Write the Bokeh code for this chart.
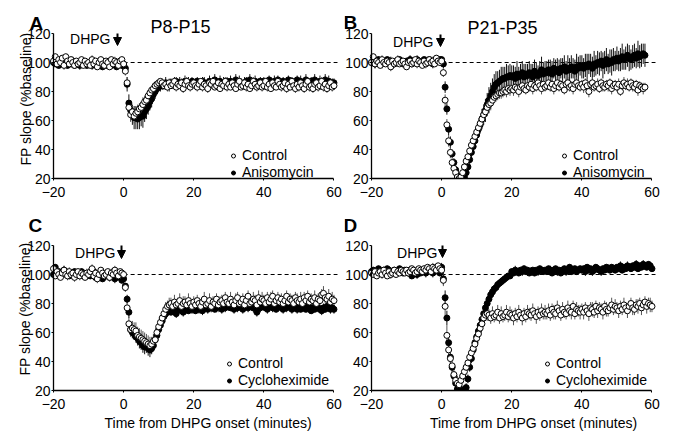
import math
from bokeh.plotting import figure
from bokeh.layouts import column, row
from bokeh.models import (ColumnDataSource, Label, Arrow, NormalHead, Legend,
                          LegendItem, Range1d, FixedTicker)
from bokeh.embed import file_html
from bokeh.resources import INLINE

# ---------------- data ----------------
# sample times (minutes from DHPG onset), one sample every 30 s
TIMES = [-20 + 0.5 * i for i in range(161)]
X_TICKS = [-20, 0, 20, 40, 60]
Y_TICKS = [20, 40, 60, 80, 100, 120]
BASELINE = 100
DHPG_ONSET = 0


def parse(*segs):
    vals = [float(v) for v in " ".join(segs).split()]
    assert len(vals) == len(TIMES), len(vals)
    return vals


# panel A: P8-P15, control vs anisomycin
A_CTRL = parse(
    "101 104 99 102 100 103 98 104 101 99 102 100 98 101 99 100 102 98 101 99",
    "100 98 102 99 101 97 100 102 99 98 101 100 97 102 99 101 100 98 101 102",
    "99 94 86 69 64 66 63 65 66 68 69 71 73 74 77 79 81 82 84 85",
    "86 87 86 84 85 83 86 84 85 87 83 85 84 86 82 85 87 84 83 85",
    "86 84 83 85 87 83 85 84 82 86 85 87 83 84 86 82 85 84 87 83",
    "85 83 86 84 82 85 87 83 84 86 83 85 82 84 87 85 83 84 86 83",
    "84 87 83 85 82 86 84 83 87 85 83 84 86 82 85 83 87 84 82 85",
    "83 86 84 82 85 87 83 84 82 85 86 83 84 87 83 85 82 84 86 83",
    "84")
A_ANISO = parse(
    "100 99 101 98 100 99 101 100 98 100 99 101 98 100 99 98 100 101 99 98",
    "99 100 98 101 99 98 100 99 97 100 98 99 101 98 100 99 97 100 99 98",
    "98 96 85 72 67 64 62 62 61 62 63 63 66 68 70 73 75 78 80 82",
    "83 84 84 85 86 85 84 86 85 86 87 85 86 84 86 87 85 86 85 87",
    "86 85 87 86 85 87 86 84 86 87 85 86 88 85 86 87 85 86 84 87",
    "86 87 85 86 88 85 87 86 84 86 87 85 88 86 85 87 86 85 87 86",
    "87 85 86 88 86 85 87 86 88 85 86 87 85 86 88 86 87 85 86 88",
    "86 87 85 86 88 86 85 87 86 88 85 86 87 85 86 88 86 87 85 86",
    "86")

# panel B: P21-P35, control vs anisomycin
B_CTRL = parse(
    "100 104 99 101 100 98 102 100 99 101 100 97 101 99 100 102 99 100 101 99",
    "97 100 101 99 100 102 99 101 100 98 101 99 100 102 100 101 99 103 101 100",
    "101 93 74 57 46 38 31 27 24 21 20 21 24 28 32 35 39 43 46 49",
    "52 55 58 61 64 66 69 71 72 74 76 77 78 79 79 80 81 80 82 81",
    "82 81 83 82 80 83 84 82 81 84 83 85 82 84 83 86 84 82 85 83",
    "84 86 83 85 82 84 86 83 85 84 81 85 86 83 84 82 85 86 84 83",
    "85 83 86 84 80 85 86 83 84 85 82 86 84 83 85 84 86 82 84 85",
    "83 85 80 84 86 84 85 83 86 84 83 85 81 84 83 82 83 nan nan nan",
    "nan")
B_ANISO = parse(
    "100 101 99 100 102 100 99 101 100 102 99 101 100 99 101 100 102 101 99 100",
    "101 100 102 99 101 100 102 101 100 99 102 101 100 102 101 99 100 102 101 102",
    "102 99 83 68 54 45 37 31 26 22 20 20 20 21 24 28 33 38 42 46",
    "50 54 57 61 64 67 71 74 77 80 83 85 86 87 88 89 89 90 90 91",
    "90 91 89 92 90 91 93 90 92 91 93 92 90 94 92 91 93 95 92 94",
    "93 95 94 92 96 94 95 93 96 95 97 94 96 95 97 96 94 97 96 98",
    "97 96 98 97 99 98 96 99 98 100 99 101 98 100 102 99 101 100 102 101",
    "103 101 102 104 102 103 105 103 102 104 105 103 106 104 105 106 105 nan nan nan",
    "nan")

# panel C: P8-P15, control vs cycloheximide
C_CTRL = parse(
    "104 99 102 100 98 101 103 100 99 102 100 101 98 100 102 99 101 100 98 101",
    "100 102 104 99 101 97 100 103 101 99 100 102 98 101 100 103 101 99 102 101",
    "100 91 77 66 62 63 62 61 58 57 56 55 54 53 52 51 52 54 55 60",
    "64 67 70 73 76 78 79 80 78 81 79 80 82 78 80 81 79 82 80 78",
    "81 79 82 80 78 81 83 79 80 82 78 81 80 83 79 81 82 80 84 81",
    "80 83 81 79 82 84 80 81 83 79 82 85 80 81 83 82 79 84 81 83",
    "82 80 84 81 83 85 80 82 84 81 83 80 82 85 81 83 82 80 84 82",
    "81 83 80 84 82 85 81 83 82 84 80 83 82 86 87 84 83 85 81 83",
    "82")
C_CYCLO = parse(
    "100 105 101 102 100 101 103 102 100 99 101 100 102 99 101 100 102 101 99 100",
    "101 99 100 102 98 100 99 101 97 100 99 101 98 100 99 97 100 99 98 96",
    "97 92 83 74 62 60 59 57 56 54 53 51 50 51 49 48 49 51 55 58",
    "62 65 68 71 73 74 75 74 76 75 73 76 77 75 74 77 76 75 77 76",
    "77 75 78 76 77 75 78 77 76 79 77 78 76 77 79 78 76 78 77 79",
    "78 77 79 76 78 77 79 78 76 78 80 77 79 78 77 79 74 78 77 79",
    "78 77 76 78 79 77 78 76 79 78 77 76 78 77 79 78 76 77 78 76",
    "77 76 78 77 76 78 77 75 77 76 78 77 76 75 77 76 78 77 76 77",
    "76")

# panel D: P21-P35, control vs cycloheximide
D_CTRL = parse(
    "101 100 102 99 101 102 100 103 101 99 102 100 101 103 100 102 101 103 102 101",
    "103 101 102 104 103 101 102 104 103 102 104 103 105 104 102 105 104 103 106 104",
    "103 96 78 58 48 42 37 31 27 25 24 27 30 33 36 39 43 46 49 52",
    "56 59 63 66 70 72 73 72 70 73 71 72 74 70 73 71 72 74 71 73",
    "72 70 73 71 74 72 70 73 71 74 73 72 75 73 71 74 72 75 73 74",
    "73 75 72 76 74 73 77 75 72 76 74 73 77 75 74 78 73 76 75 74",
    "76 74 77 75 73 77 76 74 78 75 77 76 74 78 76 75 77 79 76 78",
    "77 75 78 76 79 77 75 78 80 77 76 79 78 80 77 79 81 78 80 79",
    "78")
D_CYCLO = parse(
    "102 103 101 102 104 102 101 103 102 104 103 101 102 103 101 102 104 102 101 103",
    "102 101 103 99 101 102 100 103 101 102 103 101 102 104 103 101 102 103 104 101",
    "105 97 84 70 53 43 36 30 25 21 20 20 20 20 22 28 36 42 48 53",
    "57 61 65 69 73 77 80 83 86 88 90 91 93 94 95 96 97 98 99 99",
    "102 101 103 102 101 103 102 104 102 103 101 102 103 101 103 102 104 103 102 103",
    "102 104 103 101 103 104 102 103 101 103 104 102 103 105 102 103 104 102 103 104",
    "103 104 102 105 103 104 102 103 105 104 103 102 104 103 105 104 103 105 104 103",
    "105 104 106 103 105 104 106 105 104 106 105 107 104 106 105 107 106 105 107 106",
    "104")

# standard errors (read as bar half-lengths)
EB_BASE = "2 2 3 2 2 2 3 2 2 2 2 3 2 2 2 3 2 2 2 2"
EB_T2 = "3 2 3 3 2 3 3 2 3 2 3 3 2 3 3 2 3 2 3 3"
EB_T3 = "3 4 3 3 4 3 4 3 3 4 3 3 4 3 3 4 3 4 3 3"
EB_T4 = "4 5 4 4 5 4 5 4 4 5 4 4 5 4 5 4 4 5 4 5"
EB_T8 = "8 7 8 9 7 8 8 9 7 8 8 7 9 8 8 7 8 9 8 7"

A_CTRL_ERR = parse(EB_BASE, EB_BASE, "2 3 4 5 5 4 5 4 5 4 4 5 4 4 4 3 3 3 3 3",
                   EB_T2, EB_T2, EB_T2, EB_T2, EB_T2, "3")
A_ANISO_ERR = parse(EB_BASE, EB_BASE, "2 3 5 6 7 7 8 8 7 8 7 8 7 7 6 6 6 5 5 4",
                    EB_T3, EB_T3, EB_T3, EB_T3, EB_T3, "3")
B_CTRL_ERR = parse(EB_BASE, EB_BASE, "2 3 4 4 4 4 3 3 3 3 3 3 3 3 3 3 4 4 4 4",
                   "4 4 5 5 5 5 5 5 5 4 4 4 4 4 4 4 4 4 4 4",
                   EB_T3, EB_T3, EB_T3, EB_T3, "3")
B_ANISO_ERR = parse(EB_BASE, EB_BASE, "2 3 4 4 4 4 3 3 3 3 3 3 3 3 3 3 4 4 5 5",
                    "5 6 6 7 7 8 8 9 9 9 9 9 8 8 9 8 8 9 8 8",
                    EB_T8, EB_T8, EB_T8, EB_T8, "8")
C_CTRL_ERR = parse("3 2 3 3 2 3 3 2 3 3 3 2 3 3 2 3 3 3 2 3",
                   "3 2 3 3 2 3 3 2 3 3 3 2 3 3 2 3 3 3 2 3",
                   "2 3 4 5 5 5 5 6 6 6 6 6 6 6 6 6 5 5 5 4",
                   EB_T4, EB_T4, EB_T4, EB_T4, EB_T4, "4")
C_CYCLO_ERR = parse(EB_BASE, EB_BASE, "2 2 3 4 4 4 4 4 5 5 5 5 5 5 5 5 4 4 4 3",
                    EB_T2, EB_T2, EB_T2, EB_T2, EB_T2, "3")
D_CTRL_ERR = parse(EB_BASE, EB_BASE, "3 4 6 7 7 6 6 6 5 5 5 5 5 5 5 5 5 5 5 5",
                   EB_T4, EB_T4, EB_T4, EB_T4, EB_T4, "4")
D_CYCLO_ERR = parse(EB_BASE, EB_BASE, "3 4 5 5 4 4 3 3 3 3 3 3 3 3 3 3 3 3 3 3",
                    "3 3 3 3 3 3 3 3 3 2 2 2 2 2 2 2 2 2 2 2",
                    EB_BASE, EB_BASE, EB_BASE, EB_BASE, "2")

# ---------------- layout / style ----------------
X_AXIS_START, X_AXIS_END = -20, 60
Y_AXIS_START, Y_AXIS_END = 20, 120
DASH_END = 61
FONT = "Liberation Sans"
PX_PER_MIN = 3.506
PX_PER_UNIT = 1.45

# page-pixel geometry of each panel (figure box, axis origin) and of its texts
PANELS = [
    dict(letter="A", title="P8-P15", ctrl=A_CTRL, ctrl_err=A_CTRL_ERR,
         drug=A_ANISO, drug_err=A_ANISO_ERR, drug_name="Anisomycin",
         box=(0, 0, 344, 205), axis_px=53, top_px=33,
         letter_px=(29, 23), title_px=(180, 26.5), dhpg_px=(110, 38),
         arrow_px=(117, 33, 45), legend_px=(233, 172),
         ylabel_px=(25.5, 98.5), xlabel_px=None),
    dict(letter="B", title="P21-P35", ctrl=B_CTRL, ctrl_err=B_CTRL_ERR,
         drug=B_ANISO, drug_err=B_ANISO_ERR, drug_name="Anisomycin",
         box=(344, 0, 331, 205), axis_px=371, top_px=33,
         letter_px=(343, 22), title_px=(502, 27), dhpg_px=(433, 41),
         arrow_px=(440, 34, 46), legend_px=(564, 172),
         ylabel_px=None, xlabel_px=None),
    dict(letter="C", title=None, ctrl=C_CTRL, ctrl_err=C_CTRL_ERR,
         drug=C_CYCLO, drug_err=C_CYCLO_ERR, drug_name="Cycloheximide",
         box=(0, 205, 344, 233), axis_px=53, top_px=245,
         letter_px=(28, 225), title_px=None, dhpg_px=(115, 252.5),
         arrow_px=(121, 245, 258), legend_px=(229, 380),
         ylabel_px=(24, 308.5), xlabel_px=(207.6, 422)),
    dict(letter="D", title=None, ctrl=D_CTRL, ctrl_err=D_CTRL_ERR,
         drug=D_CYCLO, drug_err=D_CYCLO_ERR, drug_name="Cycloheximide",
         box=(344, 205, 331, 233), axis_px=371, top_px=245,
         letter_px=(343, 225), title_px=None, dhpg_px=(437, 252),
         arrow_px=(442, 245, 257), legend_px=(547, 380),
         ylabel_px=None, xlabel_px=(533, 422)),
]


def make_panel(cfg):
    bx, by, bw, bh = cfg["box"]

    def dx(px):
        return X_AXIS_START + (px - cfg["axis_px"]) / PX_PER_MIN

    def dy(py):
        return Y_AXIS_END - (py - cfg["top_px"]) / PX_PER_UNIT

    p = figure(width=bw, height=bh, title=None,
               x_range=Range1d(dx(bx), dx(bx + bw)),
               y_range=Range1d(dy(by + bh), dy(by)),
               output_backend="svg", toolbar_location=None,
               min_border=0, min_border_left=0, min_border_right=0,
               min_border_top=0, min_border_bottom=0)
    p.outline_line_color = None
    p.xgrid.visible = False
    p.ygrid.visible = False
    p.background_fill_color = "white"
    p.border_fill_color = "white"

    for ax in (p.xaxis, p.yaxis):
        ax.axis_line_color = "black"
        ax.axis_line_width = 1.3
        ax.major_tick_line_color = "black"
        ax.major_tick_in = 0
        ax.major_tick_out = 2
        ax.minor_tick_line_color = None
        ax.major_label_text_font = FONT
        ax.major_label_text_font_size = "14px"
        ax.major_label_text_color = "black"
    p.xaxis.ticker = FixedTicker(ticks=X_TICKS)
    p.xaxis.bounds = (X_AXIS_START, X_AXIS_END)
    p.xaxis.fixed_location = Y_AXIS_START
    p.xaxis.major_label_standoff = 6
    p.yaxis.ticker = FixedTicker(ticks=Y_TICKS)
    p.yaxis.bounds = (Y_AXIS_START, Y_AXIS_END)
    p.yaxis.fixed_location = X_AXIS_START
    p.yaxis.major_label_standoff = 1

    # baseline reference
    p.line(x=[DHPG_ONSET, DASH_END], y=[BASELINE, BASELINE], line_dash="4 3",
           line_color="black", line_width=1.2)

    def src(vals, errs):
        lo = [v - e for v, e in zip(vals, errs)]
        hi = [v + e for v, e in zip(vals, errs)]
        return ColumnDataSource(dict(t=TIMES, v=vals, lo=lo, hi=hi))

    s_ctrl = src(cfg["ctrl"], cfg["ctrl_err"])
    s_drug = src(cfg["drug"], cfg["drug_err"])

    p.segment(x0="t", y0="lo", x1="t", y1="hi", source=s_drug,
              line_color="#111111", line_width=1)
    p.segment(x0="t", y0="lo", x1="t", y1="hi", source=s_ctrl,
              line_color="#555555", line_width=1)
    r_drug = p.scatter("t", "v", source=s_drug, size=6, marker="circle",
                       fill_color="black", line_color="black", line_width=1)
    r_ctrl = p.scatter("t", "v", source=s_ctrl, size=6, marker="circle",
                       fill_color="white", line_color="black", line_width=1)
    # mask below the x axis (the plot area ends at the axis)
    p.quad(left=[dx(bx)], right=[dx(bx + bw)], bottom=[dy(by + bh)],
           top=[Y_AXIS_START], fill_color="white", line_color=None)

    gx, gy = cfg["legend_px"]
    legend = Legend(items=[LegendItem(label="Control", renderers=[r_ctrl]),
                           LegendItem(label=cfg["drug_name"], renderers=[r_drug])],
                    location=(gx - 5 - bx, by + bh - (gy + 8.5)),
                    orientation="vertical",
                    padding=0, margin=0, spacing=0, glyph_width=10,
                    glyph_height=17, label_height=17, label_standoff=4,
                    label_text_font=FONT, label_text_font_size="14px",
                    label_text_color="black",
                    border_line_color=None, background_fill_alpha=0)
    p.add_layout(legend)

    # DHPG application marker
    ax_, ay0, ay1 = cfg["arrow_px"]
    p.add_layout(Arrow(end=NormalHead(size=8, fill_color="black",
                                      line_color="black", line_width=1),
                       x_start=dx(ax_), y_start=dy(ay0),
                       x_end=dx(ax_), y_end=dy(ay1),
                       line_color="black", line_width=2))
    p.add_layout(Label(x=dx(cfg["dhpg_px"][0]), y=dy(cfg["dhpg_px"][1]),
                       text="DHPG", text_align="right", text_baseline="middle",
                       text_font=FONT, text_font_size="14px", text_color="black"))

    p.add_layout(Label(x=dx(cfg["letter_px"][0]), y=dy(cfg["letter_px"][1]),
                       text=cfg["letter"], text_align="left",
                       text_baseline="alphabetic", text_font=FONT,
                       text_font_size="19px", text_font_style="bold",
                       text_color="black"))
    if cfg["title"]:
        p.add_layout(Label(x=dx(cfg["title_px"][0]), y=dy(cfg["title_px"][1]),
                           text=cfg["title"], text_align="center",
                           text_baseline="alphabetic", text_font=FONT,
                           text_font_size="18px", text_color="black"))
    if cfg["ylabel_px"]:
        p.add_layout(Label(x=dx(cfg["ylabel_px"][0]), y=dy(cfg["ylabel_px"][1]),
                           text="FP slope (%baseline)", angle=math.pi / 2,
                           text_align="center", text_baseline="middle",
                           text_font=FONT, text_font_size="14px",
                           text_color="black"))
    if cfg["xlabel_px"]:
        p.add_layout(Label(x=dx(cfg["xlabel_px"][0]), y=dy(cfg["xlabel_px"][1]),
                           text="Time from DHPG onset (minutes)",
                           text_align="center", text_baseline="middle",
                           text_font=FONT, text_font_size="14px",
                           text_color="black"))
    return p


figs = [make_panel(c) for c in PANELS]
layout = column(row(figs[0], figs[1]), row(figs[2], figs[3]))

open("out.html", "w").write(file_html(layout, INLINE))
